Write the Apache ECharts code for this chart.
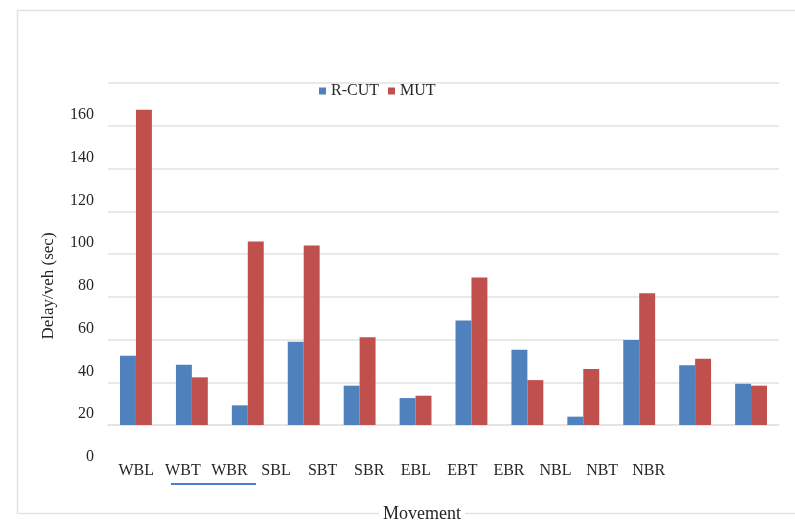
<!DOCTYPE html>
<html>
<head>
<meta charset="utf-8">
<script src="https://cdn.jsdelivr.net/npm/echarts@6/dist/echarts.min.js"></script>
<style>html,body{margin:0;padding:0;background:#fff}#c{width:795px;height:524px}</style>
</head>
<body>
<div id="c"></div>
<script>
var categories = ['WBL','WBT','WBR','SBL','SBT','SBR','EBL','EBT','EBR','NBL','NBT','NBR'];
var rcut = [32.4, 28.2, 9.2, 39.0, 18.4, 12.6, 48.9, 35.2, 3.9, 39.8, 27.9, 19.3];
var mut  = [147.5, 22.3, 85.9, 84.0, 41.0, 13.7, 69.0, 21.0, 26.2, 61.6, 31.0, 18.4];
var yTickMin = 0, yTickMax = 160, yTickStep = 20;
var xTitle = 'Movement';

var serif = '"Liberation Serif", "Times New Roman", serif';
var txt = '#262626';
var chart = echarts.init(document.getElementById('c'), null, {renderer: 'canvas'});
chart.setOption({
  animation: false,
  backgroundColor: '#fff',
  graphic: [
    {type: 'rect', z: -10, shape: {x: 17.5, y: 10.5, width: 800, height: 503}, style: {fill: 'none', stroke: '#e3e3e3', lineWidth: 1.5}},
    {type: 'line', z: 10, shape: {x1: 171, y1: 484, x2: 256, y2: 484}, style: {stroke: '#4a7fd6', lineWidth: 2}},
    {type: 'text', z: 20, x: 422, y: 514,
     style: {text: xTitle, fontFamily: serif, fontSize: 18, fill: txt, align: 'center', verticalAlign: 'middle',
             backgroundColor: '#fff', padding: [0, 4]}}
  ],
  legend: {
    left: 314, top: 78,
    itemWidth: 7, itemHeight: 7, itemGap: 9,
    icon: 'rect',
    textStyle: {fontFamily: serif, fontSize: 16, color: txt},
    data: ['R-CUT', 'MUT']
  },
  grid: [
    {left: 113, right: 123, top: 115, bottom: 67, outerBoundsMode: 'none', containLabel: false},
    {left: 108, right: 16, top: 83, bottom: 99, outerBoundsMode: 'none', containLabel: false}
  ],
  xAxis: [
    {type: 'category', gridIndex: 0, data: categories,
     axisLine: {show: false}, axisTick: {show: false},
     axisLabel: {interval: 0, margin: 6, fontFamily: serif, fontSize: 16, color: txt}},
    {type: 'category', gridIndex: 1, data: categories,
     axisLine: {lineStyle: {color: '#e2e2e2', width: 1.5}}, axisTick: {show: false},
     axisLabel: {show: false}}
  ],
  yAxis: [
    {type: 'value', gridIndex: 0, min: yTickMin, max: yTickMax, interval: yTickStep,
     axisLine: {show: false}, axisTick: {show: false}, splitLine: {show: false},
     axisLabel: {margin: 19, fontFamily: serif, fontSize: 16, color: txt},
     name: 'Delay/veh (sec)', nameLocation: 'middle', nameRotate: 90, nameGap: 56,
     nameTextStyle: {fontFamily: serif, fontSize: 17, color: txt}},
    {type: 'value', gridIndex: 1, min: yTickMin, max: yTickMax, interval: yTickStep,
     axisLine: {show: false}, axisTick: {show: false}, axisLabel: {show: false},
     splitLine: {lineStyle: {color: '#e2e2e2', width: 1.5}}}
  ],
  series: [
    {name: 'R-CUT', type: 'bar', xAxisIndex: 1, yAxisIndex: 1, data: rcut,
     barGap: '0%', barCategoryGap: '43%', itemStyle: {color: '#4F81BD'}},
    {name: 'MUT', type: 'bar', xAxisIndex: 1, yAxisIndex: 1, data: mut,
     barGap: '0%', barCategoryGap: '43%', itemStyle: {color: '#C0504D'}}
  ]
});
</script>
</body>
</html>
